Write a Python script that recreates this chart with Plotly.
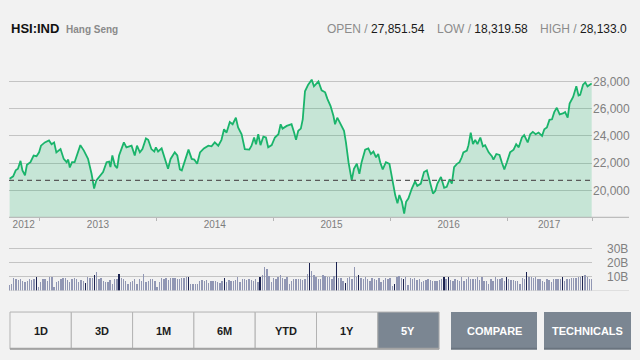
import pandas as pd
import plotly.graph_objects as go

# ---------------- data ----------------
price_dates = [
    "2012-09-29", "2012-10-10", "2012-10-18", "2012-10-25", "2012-11-02", "2012-11-08", "2012-11-16", "2012-11-22",
    "2012-12-03", "2012-12-13", "2012-12-22", "2012-12-30",
    "2013-01-05", "2013-01-17", "2013-01-30", "2013-02-07", "2013-02-15", "2013-02-22", "2013-03-07", "2013-03-17",
    "2013-03-26", "2013-03-31", "2013-04-05", "2013-04-12", "2013-04-20", "2013-04-28", "2013-05-08", "2013-05-19",
    "2013-06-01", "2013-06-12", "2013-06-20", "2013-06-27", "2013-07-08", "2013-07-18", "2013-07-29", "2013-08-06",
    "2013-08-10", "2013-08-16", "2013-08-24", "2013-08-31", "2013-09-06", "2013-09-21", "2013-09-29", "2013-10-15",
    "2013-10-25", "2013-11-01", "2013-11-10", "2013-11-18", "2013-11-29", "2013-12-06", "2013-12-16", "2013-12-25",
    "2013-12-30",
    "2014-01-06", "2014-01-17", "2014-01-27", "2014-02-06", "2014-02-14", "2014-02-27", "2014-03-07", "2014-03-15",
    "2014-03-21", "2014-03-31", "2014-04-11", "2014-04-21", "2014-04-29", "2014-05-08", "2014-05-17", "2014-05-29",
    "2014-06-12", "2014-06-22", "2014-07-02", "2014-07-13", "2014-07-23", "2014-07-31", "2014-08-08", "2014-08-18",
    "2014-08-27", "2014-09-06", "2014-09-13", "2014-09-24", "2014-10-04", "2014-10-18", "2014-10-25", "2014-11-02",
    "2014-11-08", "2014-11-15", "2014-11-22", "2014-12-01", "2014-12-09", "2014-12-16", "2014-12-27",
    "2015-01-06", "2015-01-17", "2015-01-24", "2015-01-30", "2015-02-12", "2015-02-27", "2015-03-07", "2015-03-13",
    "2015-03-20", "2015-03-28", "2015-04-03", "2015-04-10", "2015-04-20", "2015-05-01", "2015-05-08", "2015-05-22",
    "2015-06-01", "2015-06-12", "2015-06-19", "2015-06-29", "2015-07-08", "2015-07-13", "2015-07-20", "2015-08-03",
    "2015-08-10", "2015-08-16", "2015-08-24", "2015-09-03", "2015-09-10", "2015-09-19", "2015-09-27", "2015-10-04",
    "2015-10-15", "2015-10-25", "2015-11-02", "2015-11-10", "2015-11-18", "2015-11-25", "2015-12-01", "2015-12-09",
    "2015-12-19", "2015-12-30",
    "2016-01-06", "2016-01-17", "2016-01-24", "2016-01-30", "2016-02-07", "2016-02-14", "2016-02-20", "2016-02-27",
    "2016-03-09", "2016-03-19", "2016-03-26", "2016-04-06", "2016-04-16", "2016-04-25", "2016-05-03", "2016-05-14",
    "2016-05-21", "2016-05-28", "2016-06-08", "2016-06-18", "2016-06-26", "2016-07-05", "2016-07-12", "2016-07-19",
    "2016-07-28", "2016-08-05", "2016-08-12", "2016-08-17", "2016-08-28", "2016-09-02", "2016-09-09", "2016-09-16",
    "2016-09-23", "2016-09-30", "2016-10-09", "2016-10-17", "2016-10-24", "2016-11-04", "2016-11-14", "2016-11-19",
    "2016-11-28", "2016-12-08", "2016-12-15", "2016-12-23", "2016-12-31",
    "2017-01-10", "2017-01-21", "2017-01-29", "2017-02-06", "2017-02-16", "2017-02-23", "2017-03-06", "2017-03-14",
    "2017-03-22", "2017-03-31", "2017-04-09", "2017-04-20", "2017-04-27", "2017-05-05", "2017-05-13", "2017-05-21",
    "2017-05-28", "2017-06-05", "2017-06-14", "2017-06-24", "2017-07-01", "2017-07-09", "2017-07-15", "2017-07-26",
    "2017-08-05", "2017-08-12", "2017-08-17", "2017-08-26", "2017-09-02", "2017-09-09", "2017-09-18", "2017-09-22",
]

price_values = [
    20870, 21045, 21480, 21600, 22180, 21480, 21120, 21890, 22080, 22570, 22520, 22800,
    23290, 23530, 23670, 23400, 23530, 22800, 23040, 22320, 22080, 22270, 21690, 22080, 22080, 22570, 23330, 22930,
    22320, 21230, 20150, 20750, 21070, 21360, 22080, 22130, 21720, 22570, 21840, 21650, 22570, 23530, 23170, 23290,
    22570, 23290, 22800, 23040, 23820, 23720, 23040, 22860, 23170,
    22860, 23090, 22320, 21600, 22320, 22800, 22570, 21550, 21480, 22200, 23000, 22320, 22270, 21960, 22800, 23090,
    23290, 23240, 23530, 23290, 23720, 24490, 24250, 25030, 24860, 25340, 24620, 24130, 23040, 23000, 23290, 23890,
    23400, 24130, 23330, 23960, 23890, 23170, 23330,
    23890, 24130, 24860, 24540, 24740, 24860, 24250, 23720, 24380, 24540, 25220, 27280, 27760, 28130, 27640, 28000,
    27350, 27200, 26720, 26190, 25460, 24860, 25340, 24620, 24380, 23530, 22080, 20750, 21600, 21960, 21230, 22080,
    23000, 23090, 22680, 22860, 22440, 22680, 22080, 21550, 22080, 21960,
    21000, 19670, 19060, 19670, 19180, 18320, 19180, 19420, 20150, 20680, 20340, 20510, 21360, 21480, 20750, 19780,
    19960, 20510, 21000, 20200, 20270, 20830, 20510, 21720, 21960, 22080, 22440, 22800, 22930, 23330, 24250, 23400,
    23720, 23400, 23890, 23240, 23330, 22800, 22520, 22270, 22680, 22610, 22080, 21550, 22080,
    22800, 23000, 23400, 23170, 23890, 24060, 23530, 24130, 24300, 24130, 24250, 24010, 24490, 24620, 25180, 25220,
    25750, 26070, 25580, 25650, 25750, 25340, 26380, 26860, 27640, 26960, 27010, 27760, 27930, 27640, 27830, 27850,
]

reference_level = 20750  # dashed base line (start of period)

# weekly turnover, billions (first week ending 2012-09-28)
volume_start = "2012-09-28"
volume_billions = [
    4, 5, 9, 8, 7.5, 8, 7, 6.5, 7, 8.5, 7.5,
    8, 9.5, 3, 6, 8, 8, 7, 9.5, 10, 2.5, 6,
    7, 8.5, 9, 9, 7.5, 6, 8, 9, 8, 6, 7.5,
    7, 5.5, 10, 9, 9, 11, 13.5, 8, 9, 7, 6.5,
    6, 7.5, 5, 8, 8, 12, 9, 8, 7, 5, 6,
    7, 8, 4.5, 8, 7, 12, 6, 7, 8, 8.5, 7,
    3, 6, 9, 8.5, 9, 7.5, 9, 9, 9, 8, 8.5,
    9, 9, 9.5, 10, 5, 4.5, 5, 4.5, 7, 7.5, 7,
    7.5, 5.5, 7, 7, 7, 6, 5.5, 7, 9, 6.5, 7.5,
    7, 7, 7.5, 9.5, 6, 8, 8, 7.5, 8, 7.5, 7,
    8, 6, 10, 11, 17, 15.5, 10.5, 6, 9, 8, 9.5,
    11, 9, 8, 9.5, 5, 7, 8, 8, 8, 8, 7.5,
    8, 12, 19.5, 14, 11, 10, 8, 8, 11, 10.5, 9.5,
    10, 8.5, 10.5, 20, 9, 9, 7, 5.5, 9, 10, 8.5,
    16.5, 9.5, 11, 9, 8, 9.5, 8, 7, 9, 8, 7.5,
    9, 6, 7.5, 9, 8, 9, 3.5, 5, 10, 10.5, 9,
    8.5, 9.5, 4, 9, 8.5, 9, 7.5, 8, 6, 7, 7.5,
    8, 7.5, 7, 7, 7, 7.5, 8, 10, 8, 10, 7.5,
    7, 8.5, 7.5, 7, 10, 7, 8, 10, 8, 8.5, 8,
    10, 7.5, 9.5, 7, 7, 5, 8.5, 7, 9.5, 8, 8.5,
    9, 7, 10, 8, 7.5, 7.5, 7, 7, 4.5, 9, 8,
    13.5, 10, 9.5, 9, 10, 8, 8.5, 7, 6, 8.5, 7.5,
    6.5, 8.5, 8.5, 8, 8.5, 10, 7, 8, 8.5, 9, 9,
    9, 10, 10, 10.5, 11, 10, 8, 8.5,
]
volume_dark_weeks = [12, 34, 38, 49, 80, 96, 112, 134, 146, 150, 156, 172, 176, 194, 196, 222, 231, 247, 256]

year_boundaries = ["2013-01-01", "2014-01-01", "2015-01-01", "2016-01-01", "2017-01-01", "2017-09-23"]
year_label_pos = ["2012-11-12", "2013-07-02", "2014-07-02", "2015-07-02", "2016-07-02", "2017-05-12"]
year_labels = ["2012", "2013", "2014", "2015", "2016", "2017"]

price_ticks = [20000, 22000, 24000, 26000, 28000]
volume_ticks = [10, 20, 30]
volume_tick_text = ["10B", "20B", "30B"]

header_stats = [("OPEN", "27,851.54"), ("LOW", "18,319.58"), ("HIGH", "28,133.0")]
range_buttons = ["1D", "3D", "1M", "6M", "YTD", "1Y", "5Y"]
active_button = "5Y"
action_buttons = ["COMPARE", "TECHNICALS"]

x_range = ["2012-09-27", "2017-09-23"]
price_range = [18040, 29000]
volume_range = [0, 32]

# ---------------- figure ----------------
W, H = 640, 360
BG = "#f2f2f2"
FONT = "Liberation Sans"
LINE_GREEN = "#1ab46b"
GRID = "#c4c4c4"
SLATE = "#7b8692"


def px(x):
    return x / W


def py(y):
    return 1 - y / H


n = min(len(price_dates), len(price_values))
volume_dates = pd.date_range(volume_start, periods=len(volume_billions), freq="7D")
vol_colors = ["#1b2250" if i in volume_dark_weeks else "#9197b4" for i in range(len(volume_billions))]

fig = go.Figure()
fig.add_trace(go.Scatter(
    x=pd.to_datetime(price_dates[:n]), y=price_values[:n], mode="lines",
    line=dict(color=LINE_GREEN, width=1.8), fill="tozeroy",
    fillcolor="rgba(26,180,107,0.20)", hoverinfo="skip", xaxis="x", yaxis="y",
))
fig.add_trace(go.Bar(
    x=volume_dates, y=volume_billions, marker=dict(color=vol_colors, line=dict(width=0)),
    width=4.3 * 86400000, xaxis="x2", yaxis="y2", hoverinfo="skip",
))

dom_x = [px(9), px(592)]
fig.update_layout(
    width=W, height=H, margin=dict(l=0, r=0, t=0, b=0),
    paper_bgcolor=BG, plot_bgcolor=BG, showlegend=False, bargap=0,
    font=dict(family=FONT, color="#7d7d7d"),
    xaxis=dict(
        domain=dom_x, anchor="y", type="date", range=x_range,
        tickmode="array", tickvals=year_label_pos, ticktext=year_labels, ticks="",
        tickfont=dict(size=10, color="#7d7d7d"), showgrid=False, showline=False, zeroline=False,
        minor=dict(tickmode="array", tickvals=year_boundaries, ticks="outside", ticklen=3,
                   tickcolor="#b5b5b5", tickwidth=1, showgrid=False),
        fixedrange=True,
    ),
    yaxis=dict(
        domain=[py(215.7), py(64.5)], anchor="x", range=price_range, side="right",
        tickmode="array", tickvals=price_ticks, ticktext=[f"{v:,}" for v in price_ticks],
        ticks="", tickfont=dict(size=12, color="#808080"), showgrid=True, gridcolor=GRID, gridwidth=1,
        zeroline=False, showline=False, ticklabelstandoff=0,
    ),
    xaxis2=dict(
        domain=dom_x, anchor="y2", type="date", range=x_range, matches="x",
        showticklabels=False, showgrid=False, showline=False, zeroline=False, ticks="",
    ),
    yaxis2=dict(
        domain=[py(290), py(244.2)], anchor="x2", range=volume_range, side="right",
        tickmode="array", tickvals=volume_ticks, ticktext=volume_tick_text, ticks="",
        tickfont=dict(size=12, color="#808080"), showgrid=True, gridcolor=GRID, gridwidth=1,
        zeroline=False, showline=False, ticklabelstandoff=14,
    ),
)

shapes = []
# dashed reference level
shapes.append(dict(type="line", xref="x domain", x0=0, x1=1, yref="y", y0=reference_level, y1=reference_level,
                   line=dict(color="#5a5a5a", width=1.4, dash="5px,4px"), layer="above"))
# axis base lines extended under the labels
shapes.append(dict(type="line", xref="paper", x0=px(9), x1=px(629), yref="y domain", y0=0, y1=0,
                   line=dict(color="#b0b0b0", width=1)))
shapes.append(dict(type="line", xref="paper", x0=px(9), x1=px(629), yref="y2", y0=0, y1=0,
                   line=dict(color="#d0d0d0", width=1)))

# buttons
btn_x = [10, 71.3, 132.6, 193.9, 255.2, 316.5, 377.8, 439.1]
btn_top, btn_bot = 311.5, 349
annotations = []
for i, lab in enumerate(range_buttons):
    x0, x1 = btn_x[i], btn_x[i + 1]
    active = lab == active_button
    shapes.append(dict(type="rect", xref="paper", yref="paper", x0=px(x0), x1=px(x1), y0=py(btn_bot), y1=py(btn_top),
                       fillcolor=SLATE if active else BG, line=dict(color="#b3b3b3", width=1), layer="above"))
    annotations.append(dict(xref="paper", yref="paper", x=px((x0 + x1) / 2), y=py(330.5), text=f"<b>{lab}</b>",
                            showarrow=False, xanchor="center", yanchor="middle",
                            font=dict(size=11, color="#ffffff" if active else "#1c1c1c", family=FONT)))
shapes.append(dict(type="line", xref="paper", yref="paper", x0=px(10), x1=px(439.1), y0=py(348.5), y1=py(348.5),
                   line=dict(color="#a3a3a3", width=2), layer="above"))
for lab, (x0, x1) in zip(action_buttons, [(451, 537), (544, 631)]):
    shapes.append(dict(type="rect", xref="paper", yref="paper", x0=px(x0), x1=px(x1), y0=py(btn_bot), y1=py(btn_top),
                       fillcolor=SLATE, line=dict(width=0), layer="above"))
    shapes.append(dict(type="line", xref="paper", yref="paper", x0=px(x0), x1=px(x1), y0=py(348.5), y1=py(348.5),
                       line=dict(color="#6a747f", width=2), layer="above"))
    annotations.append(dict(xref="paper", yref="paper", x=px((x0 + x1) / 2), y=py(330.5), text=f"<b>{lab}</b>",
                            showarrow=False, xanchor="center", yanchor="middle",
                            font=dict(size=11, color="#ffffff", family=FONT)))

# header
annotations.append(dict(xref="paper", yref="paper", x=px(9), y=py(25), text="<b>HSI:IND</b>", showarrow=False,
                        xanchor="left", yanchor="middle", font=dict(size=13, color="#111111", family=FONT)))
annotations.append(dict(xref="paper", yref="paper", x=px(64), y=py(25.5), text="<b>Hang Seng</b>", showarrow=False,
                        xanchor="left", yanchor="middle", font=dict(size=10, color="#8a8a8a", family=FONT)))
stat_right = [427, 530, 629]
for (lab, val), xr in zip(header_stats, stat_right):
    annotations.append(dict(xref="paper", yref="paper", x=px(xr), y=py(25), showarrow=False,
                            xanchor="right", yanchor="middle",
                            text=f"<span style='color:#8c8c8c'>{lab} / </span><span style='color:#1a1a1a'>{val}</span>",
                            font=dict(size=12, family=FONT)))

fig.update_layout(shapes=shapes, annotations=annotations)
fig.write_html(
    "out.html",
    config={"displayModeBar": False, "staticPlot": True},
    post_script="document.body.style.margin='0px';document.body.style.padding='0px';"
                "document.body.style.background='#f2f2f2';document.body.style.overflow='hidden';",
)
